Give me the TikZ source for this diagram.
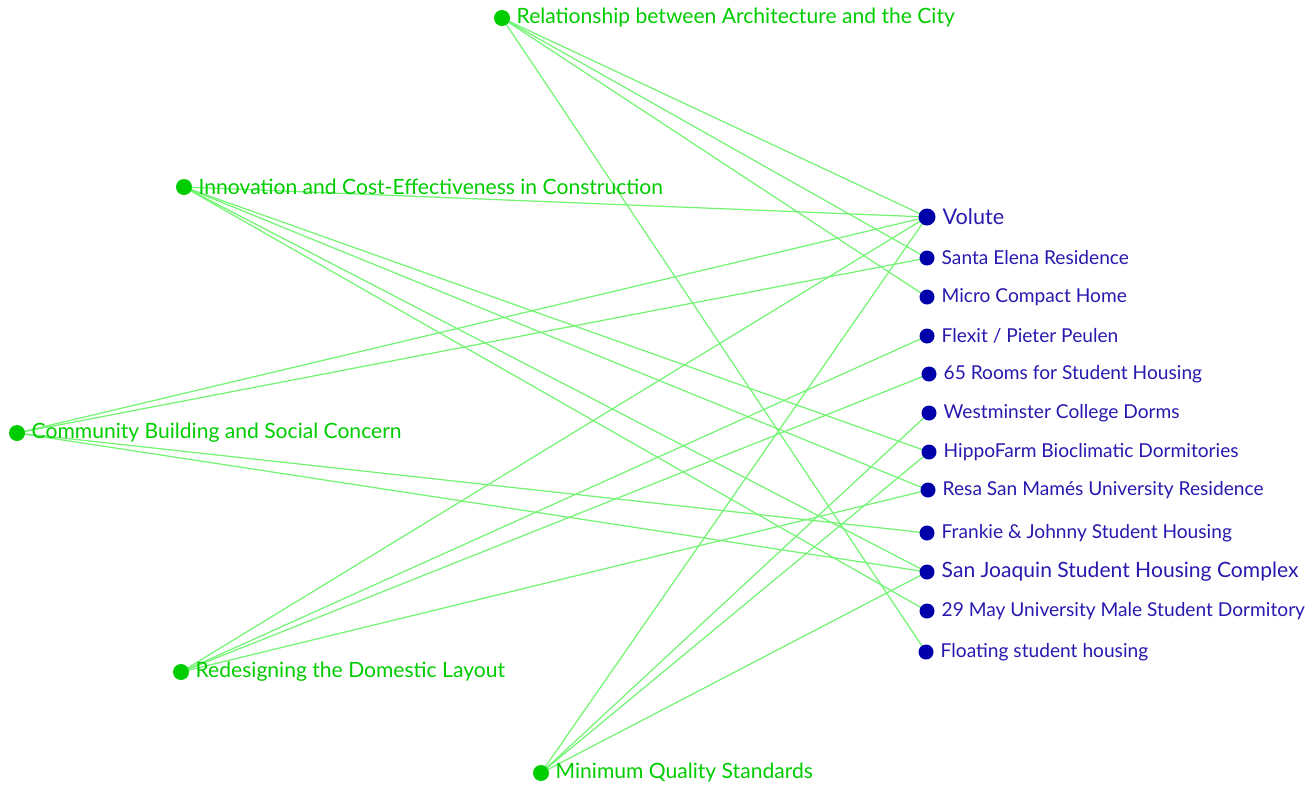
\documentclass[tikz,border=0pt]{standalone}
\usepackage{fontspec}
\setmainfont{Lato}
\usetikzlibrary{backgrounds}
\definecolor{topicgreen}{RGB}{0,205,0}
\definecolor{linkgreen}{RGB}{115,245,115}
\definecolor{projblue}{RGB}{0,0,170}
\definecolor{projtext}{RGB}{40,25,175}
\begin{document}
\begin{tikzpicture}[x=0.02cm, y=-0.02cm, line cap=round,
    topic/.style={circle, fill=topicgreen, inner sep=0pt, minimum size=0.32cm,
        label={[text=topicgreen, inner sep=0pt, font=\fontsize{12}{14}\selectfont, label distance=0.12cm]right:#1}},
    proj/.style={circle, fill=projblue, inner sep=0pt, minimum size=0.3cm,
        label={[text=projtext, inner sep=0pt, font=\fontsize{10.9}{13}\selectfont, label distance=0.13cm]right:#1}},
    link/.style={linkgreen, line width=0.7pt}]
    \useasboundingbox (0,0) rectangle (1312,789);
    % themes
    \node[topic={Relationship between Architecture and the City}] (rac) at (502,18) {};
    \node[topic={Innovation and Cost-Effectiveness in Construction}] (ice) at (184,187) {};
    \node[topic={Community Building and Social Concern}] (cbs) at (17,433) {};
    \node[topic={Redesigning the Domestic Layout}] (rdl) at (181,672) {};
    \node[topic={Minimum Quality Standards}] (mqs) at (541,773) {};
    % projects
    \node[proj={\fontsize{12.3}{14}\selectfont Volute}, minimum size=0.34cm] (volute) at (927,217) {};
    \node[proj={Santa Elena Residence}] (santa) at (927,258) {};
    \node[proj={Micro Compact Home}] (micro) at (927,297) {};
    \node[proj={Flexit / Pieter Peulen}] (flexit) at (927,336) {};
    \node[proj={65 Rooms for Student Housing}] (rooms) at (929,374) {};
    \node[proj={Westminster College Dorms}] (westminster) at (929,413) {};
    \node[proj={HippoFarm Bioclimatic Dormitories}] (hippo) at (929,452) {};
    \node[proj={Resa San Mamés University Residence}] (resa) at (928,490) {};
    \node[proj={Frankie \& Johnny Student Housing}] (frankie) at (927,533) {};
    \node[proj={\fontsize{12}{14}\selectfont San Joaquin Student Housing Complex}] (joaquin) at (927,572) {};
    \node[proj={29 May University Male Student Dormitory}] (may) at (927,611) {};
    \node[proj={Floating student housing}] (floating) at (926,652) {};
    % links between themes and projects
    \begin{scope}[on background layer]
        \foreach \a/\b in {rac/volute,rac/santa,rac/micro,rac/floating,
            ice/volute,ice/hippo,ice/resa,ice/joaquin,ice/may,
            cbs/volute,cbs/santa,cbs/frankie,cbs/joaquin,
            rdl/volute,rdl/flexit,rdl/rooms,rdl/resa,
            mqs/volute,mqs/westminster,mqs/hippo,mqs/joaquin}
        \draw[link](\a.center)--(\b.center);
    \end{scope}
\end{tikzpicture}
\end{document}
